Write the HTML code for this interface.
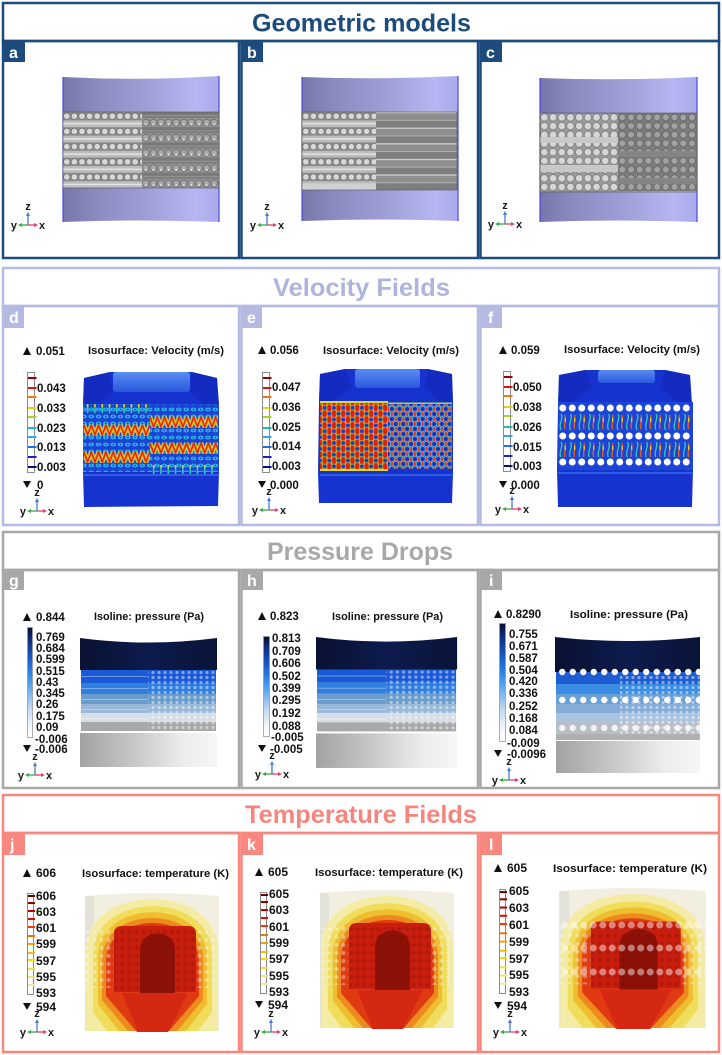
<!DOCTYPE html>
<html><head><meta charset="utf-8"><title>Simulation figure</title>
<style>
html,body{margin:0;padding:0;background:#fff;width:722px;height:1055px;overflow:hidden}
svg{display:block}
text{font-family:"Liberation Sans",Arial,sans-serif;font-weight:bold}
</style></head><body>
<svg width="722" height="1055" viewBox="0 0 722 1055" xmlns="http://www.w3.org/2000/svg">
<defs>
<linearGradient id="gPur" x1="0" y1="0" x2="1" y2="0">
 <stop offset="0" stop-color="#7676a8"/><stop offset="0.2" stop-color="#8a8abe"/>
 <stop offset="0.55" stop-color="#a0a0d8"/><stop offset="0.85" stop-color="#b6b6f2"/>
 <stop offset="1" stop-color="#aaaaec"/>
</linearGradient>
<linearGradient id="gCap" x1="0" y1="0" x2="0" y2="1">
 <stop offset="0" stop-color="#5a8cf2"/><stop offset="1" stop-color="#2a58de"/>
</linearGradient>
<linearGradient id="gNavy" x1="0" y1="0" x2="1" y2="0">
 <stop offset="0" stop-color="#091233"/><stop offset="0.5" stop-color="#0d1b4c"/><stop offset="1" stop-color="#0a1438"/>
</linearGradient>
<linearGradient id="gGray" x1="0" y1="0" x2="1" y2="0">
 <stop offset="0" stop-color="#a2a2a2"/><stop offset="0.4" stop-color="#c8c8c8"/>
 <stop offset="0.75" stop-color="#ececec"/><stop offset="1" stop-color="#f6f6f6"/>
</linearGradient>
<linearGradient id="gPbar" x1="0" y1="0" x2="0" y2="1">
 <stop offset="0" stop-color="#061030"/><stop offset="0.1" stop-color="#0c2a78"/>
 <stop offset="0.3" stop-color="#1a60d0"/><stop offset="0.45" stop-color="#3090e8"/>
 <stop offset="0.6" stop-color="#80b8f0"/><stop offset="0.75" stop-color="#c8dcf4"/>
 <stop offset="0.9" stop-color="#f4f8fc"/><stop offset="1" stop-color="#ffffff"/>
</linearGradient>
<pattern id="pA" width="7.6" height="15.2" patternUnits="userSpaceOnUse">
 <rect width="7.6" height="15.2" fill="#bcbcbc"/><rect width="7.6" height="8.4" fill="#8c8c8c"/>
 <circle cx="3.8" cy="4.2" r="3.2" fill="#d8d8d8" stroke="#666" stroke-width="0.6"/>
 <rect y="11" width="7.6" height="1.4" fill="#e6e6e6"/>
</pattern>
<pattern id="pB" width="7.6" height="15.2" patternUnits="userSpaceOnUse">
 <rect width="7.6" height="15.2" fill="#7a7a7a"/><rect width="7.6" height="9" fill="#959595"/>
 <circle cx="3.8" cy="4.5" r="3.3" fill="#a8a8a8" stroke="#5a5a5a" stroke-width="0.6"/>
 <polygon points="3.8,4.6 2.6,7.4 5,7.4" fill="#eeeeee"/>
 <rect y="12.5" width="7.6" height="0.9" fill="#9a9a9a"/>
</pattern>
<pattern id="pS" width="10" height="15.6" patternUnits="userSpaceOnUse">
 <rect width="10" height="15.6" fill="#8e8e8e"/><rect width="10" height="1.3" fill="#cfcfcf"/>
 <rect y="7.8" width="10" height="1" fill="#b0b0b0"/><rect y="9" width="10" height="6.6" fill="#7e7e7e"/>
</pattern>
<pattern id="pC" width="8.7" height="8.7" patternUnits="userSpaceOnUse">
 <rect width="8.7" height="8.7" fill="#9a9a9a"/>
 <circle cx="4.35" cy="4.35" r="3.7" fill="#d6d6d6" stroke="#6a6a6a" stroke-width="0.6"/>
</pattern>
<pattern id="pD" width="8.7" height="8.7" patternUnits="userSpaceOnUse">
 <rect width="8.7" height="8.7" fill="#7c7c7c"/>
 <circle cx="4.35" cy="4.35" r="3.4" fill="#a2a2a2" stroke="#5a5a5a" stroke-width="0.6"/>
</pattern>
<pattern id="pCy" width="7.3" height="7" patternUnits="userSpaceOnUse">
 <ellipse cx="3.65" cy="3.5" rx="2.8" ry="1.9" fill="#2cb6e6"/>
 <circle cx="3.65" cy="3.5" r="0.9" fill="#1a3ad0"/>
</pattern>
<pattern id="zig" width="7.3" height="12" patternUnits="userSpaceOnUse">
 <path d="M0,1 L3.65,11 L7.3,1" fill="none" stroke="#d8e030" stroke-width="4.5"/>
 <path d="M0,1 L3.65,11 L7.3,1" fill="none" stroke="#f28a18" stroke-width="2.8"/>
 <path d="M0,1 L3.65,11 L7.3,1" fill="none" stroke="#d81a0a" stroke-width="1.1"/>
</pattern>
<pattern id="spk" width="7.3" height="9" patternUnits="userSpaceOnUse">
 <line x1="3.65" y1="2" x2="3.65" y2="9" stroke="#30cfb0" stroke-width="1.6"/>
 <line x1="3.65" y1="0" x2="3.65" y2="3" stroke="#e8d820" stroke-width="1.6"/>
</pattern>
<pattern id="pE1" width="9.3" height="11.7" patternUnits="userSpaceOnUse">
 <rect width="9.3" height="11.7" fill="#f09a20"/>
 <g fill="#e0200c">
  <ellipse cx="4.65" cy="0" rx="2.2" ry="4"/><ellipse cx="4.65" cy="11.7" rx="2.2" ry="4"/>
  <ellipse cx="0" cy="5.85" rx="2.2" ry="4"/><ellipse cx="9.3" cy="5.85" rx="2.2" ry="4"/>
 </g>
 <g fill="#1c38d2" stroke="#8ad040" stroke-width="0.7">
  <circle cx="0" cy="0" r="2.3"/><circle cx="9.3" cy="0" r="2.3"/><circle cx="0" cy="11.7" r="2.3"/>
  <circle cx="9.3" cy="11.7" r="2.3"/><circle cx="4.65" cy="5.85" r="2.3"/>
 </g>
</pattern>
<pattern id="pE2" width="7.7" height="10" patternUnits="userSpaceOnUse">
 <rect width="7.7" height="10" fill="#2450da"/>
 <g fill="#e83a12" stroke="#e8d020" stroke-width="0.5">
  <ellipse cx="3.85" cy="0" rx="1.4" ry="3.2"/><ellipse cx="3.85" cy="10" rx="1.4" ry="3.2"/>
  <ellipse cx="0" cy="5" rx="1.4" ry="3.2"/><ellipse cx="7.7" cy="5" rx="1.4" ry="3.2"/>
 </g>
 <g fill="#1430c4" stroke="#48b0ea" stroke-width="0.8">
  <circle cx="0" cy="0" r="2.5"/><circle cx="7.7" cy="0" r="2.5"/><circle cx="0" cy="10" r="2.5"/>
  <circle cx="7.7" cy="10" r="2.5"/><circle cx="3.85" cy="5" r="2.5"/>
 </g>
</pattern>
<pattern id="pWc" width="9.5" height="10" patternUnits="userSpaceOnUse">
 <circle cx="4.75" cy="5" r="3.5" fill="#ffffff"/>
</pattern>
<pattern id="pWg" width="9.5" height="18" patternUnits="userSpaceOnUse">
 <path d="M3,1 C6,5 0,11 3,17" fill="none" stroke="#38c8b0" stroke-width="1.3"/>
 <path d="M7,2 C8.5,7 5.5,11 7,16" fill="none" stroke="#e86018" stroke-width="1.4"/>
 <path d="M7,5 L7.3,9" stroke="#f0d820" stroke-width="1.2"/>
</pattern>
<pattern id="pIc" width="10.5" height="10" patternUnits="userSpaceOnUse">
 <circle cx="5.25" cy="5" r="3.2" fill="#ffffff"/>
</pattern>
<pattern id="pDot" width="6" height="5" patternUnits="userSpaceOnUse">
 <circle cx="3" cy="2.5" r="1.6" fill="#ffffff" opacity="0.45"/>
</pattern>
<pattern id="pTd" width="7" height="8" patternUnits="userSpaceOnUse">
 <circle cx="3.5" cy="4" r="2.2" fill="#ffffff" opacity="0.35" stroke="#777" stroke-opacity="0.3" stroke-width="0.5"/>
</pattern>
<pattern id="pTr" width="7" height="8" patternUnits="userSpaceOnUse">
 <circle cx="3.5" cy="4" r="2.3" fill="#7a0a04" opacity="0.25"/>
</pattern>
<g id="vbar">
 <rect x="0.5" y="0.5" width="7" height="100" fill="#fff" stroke="#8a8a8a" stroke-width="1"/>
 <rect x="1" y="5" width="8.5" height="2" fill="#9a0000"/>
 <rect x="1" y="15" width="8.5" height="2" fill="#e01010"/>
 <rect x="1" y="24" width="8.5" height="2" fill="#f07a10"/>
 <rect x="1" y="35" width="8.5" height="2" fill="#eccc10"/>
 <rect x="1" y="44" width="8.5" height="2" fill="#a8d030"/>
 <rect x="1" y="55" width="8.5" height="2" fill="#20c0a8"/>
 <rect x="1" y="64" width="8.5" height="2" fill="#30a8e8"/>
 <rect x="1" y="74" width="8.5" height="2" fill="#2a6ae0"/>
 <rect x="1" y="84" width="8.5" height="2" fill="#1426c0"/>
 <rect x="1" y="94" width="8.5" height="2" fill="#0a0a80"/>
</g>
<g id="tbar">
 <rect x="0.5" y="0.5" width="6" height="101" fill="#fff" stroke="#8a8a8a" stroke-width="1"/>
 <rect x="1" y="2" width="7" height="2" fill="#6a0000"/>
 <rect x="1" y="9" width="7" height="2" fill="#980000"/>
 <rect x="1" y="17" width="7" height="2" fill="#c00000"/>
 <rect x="1" y="25" width="7" height="2" fill="#e00808"/>
 <rect x="1" y="33" width="7" height="2" fill="#f03a08"/>
 <rect x="1" y="42" width="7" height="2" fill="#f07010"/>
 <rect x="1" y="50" width="7" height="2" fill="#f0a010"/>
 <rect x="1" y="59" width="7" height="2" fill="#f0c010"/>
 <rect x="1" y="66" width="7" height="2" fill="#f0dc10"/>
 <rect x="1" y="75" width="7" height="2" fill="#f0e040"/>
 <rect x="1" y="83" width="7" height="2" fill="#f0e480"/>
 <rect x="1" y="91" width="7" height="2" fill="#f0e8b0"/>
</g>
<g id="axes">
 <line x1="0" y1="0" x2="0" y2="-10" stroke="#4a78d0" stroke-width="1.3"/>
 <polygon points="-2,-9 2,-9 0,-13" fill="#4a78d0"/>
 <line x1="0" y1="0" x2="-7" y2="0" stroke="#3aa843" stroke-width="1.3"/>
 <polygon points="-6,-2 -6,2 -10,0" fill="#3aa843"/>
 <line x1="0" y1="0" x2="7" y2="0" stroke="#e0406a" stroke-width="1.3"/>
 <polygon points="6,-2 6,2 10,0" fill="#e0406a"/>
</g>
<g id="presG">
 <path d="M80,638 Q148,647 217,638 L217,670 L80,670 Z" fill="url(#gNavy)"/>
 <rect x="81" y="670" width="135" height="13" fill="#1b5ad6"/>
 <rect x="81" y="683" width="135" height="11" fill="#2f7ee0"/>
 <rect x="81" y="694" width="135" height="10" fill="#6a9ccc"/>
 <rect x="81" y="704" width="135" height="9" fill="#9ab8da"/>
 <rect x="81" y="713" width="135" height="9" fill="#d6dde6"/>
 <rect x="81" y="722" width="135" height="9" fill="#a8a8a8"/>
 <rect x="148" y="670" width="68" height="61" fill="url(#pDot)"/>
 <g fill="#ffffff" opacity="0.35">
  <rect x="81" y="676" width="67" height="1"/><rect x="81" y="688" width="67" height="1"/>
  <rect x="81" y="699" width="67" height="1"/><rect x="81" y="709" width="67" height="1"/>
  <rect x="81" y="718" width="67" height="1.5"/>
 </g>
 <rect x="80" y="733" width="137" height="34" fill="url(#gGray)"/>
</g>
<g id="tempJ">
 <path d="M85,896 Q152,890 219,896 L219,1031 L85,1031 Z" fill="#f2efe0"/>
 <rect x="85" y="896" width="9" height="135" fill="#d8d8d4" opacity="0.6"/>
 <path d="M86,1031 L86,950 C86,882 218,882 218,950 L218,1031 Z" fill="#f4eba4"/>
 <path d="M93,1012 L93,955 C93,890 212,890 212,955 L212,1012 L198,1031 L107,1031 Z" fill="#f1dd5c"/>
 <path d="M98,1004 L98,958 C98,897 207,897 207,958 L207,1004 L186,1031 L119,1031 Z" fill="#efbd30"/>
 <path d="M102,1000 L102,960 C102,904 203,904 203,960 L203,1000 L177,1031 L128,1031 Z" fill="#ec8a1e"/>
 <path d="M106,996 L106,962 C106,910 199,910 199,962 L199,996 L168,1032 L137,1032 Z" fill="#e03a12"/>
 <path d="M114,992 L114,934 Q114,926 122,926 L188,926 Q196,926 196,934 L196,992 Z" fill="#c81e0e"/>
 <path d="M140,998 L140,950 C140,928 175,928 175,950 L175,998 Z" fill="#8c1208"/>
 <path d="M122,993 L188,993 L168,1032 L138,1032 Z" fill="#d42812"/>
 <rect x="86" y="928" width="28" height="60" fill="url(#pTd)"/>
 <rect x="196" y="928" width="22" height="60" fill="url(#pTd)"/>
 <rect x="114" y="928" width="82" height="62" fill="url(#pTr)"/>
</g>
</defs>

<!-- ===== Section frames ===== -->
<g fill="none" stroke="#1d4c7c" stroke-width="2.5">
 <rect x="3" y="3" width="716" height="38"/>
 <rect x="3" y="41" width="236" height="217"/>
 <rect x="241.5" y="41" width="236.5" height="217"/>
 <rect x="480.5" y="41" width="238.5" height="217"/>
</g>
<g fill="none" stroke="#b4bae2" stroke-width="2.5">
 <rect x="3" y="268" width="716" height="38"/>
 <rect x="3" y="306" width="236" height="219"/>
 <rect x="241.5" y="306" width="236.5" height="219"/>
 <rect x="480.5" y="306" width="238.5" height="219"/>
</g>
<g fill="none" stroke="#a8a8a8" stroke-width="2.5">
 <rect x="3" y="532" width="716" height="38"/>
 <rect x="3" y="570" width="236" height="218"/>
 <rect x="241.5" y="570" width="236.5" height="218"/>
 <rect x="480.5" y="570" width="238.5" height="218"/>
</g>
<g fill="none" stroke="#f8877f" stroke-width="2.5">
 <rect x="3" y="795" width="716" height="38"/>
 <rect x="3" y="833" width="236" height="219"/>
 <rect x="241.5" y="833" width="236.5" height="219"/>
 <rect x="480.5" y="833" width="238.5" height="219"/>
</g>

<!-- headers -->
<text x="361.5" y="31.5" text-anchor="middle" font-size="25" fill="#1d4c7c" textLength="219" lengthAdjust="spacingAndGlyphs">Geometric models</text>
<text x="361.5" y="296" text-anchor="middle" font-size="25" fill="#aeb4de" textLength="177" lengthAdjust="spacingAndGlyphs">Velocity Fields</text>
<text x="360" y="560" text-anchor="middle" font-size="25" fill="#a8a8a8" textLength="186" lengthAdjust="spacingAndGlyphs">Pressure Drops</text>
<text x="361" y="823" text-anchor="middle" font-size="25" fill="#f6857d" textLength="232" lengthAdjust="spacingAndGlyphs">Temperature Fields</text>

<!-- panel label boxes -->
<g fill="#1d4c7c"><rect x="3" y="41" width="22" height="21"/><rect x="241" y="41" width="22" height="21"/><rect x="480" y="41" width="22" height="21"/></g>
<g fill="#b4bae2"><rect x="3" y="306" width="21" height="22"/><rect x="241" y="306" width="21" height="22"/><rect x="480" y="306" width="22" height="22"/></g>
<g fill="#a8a8a8"><rect x="3" y="570" width="21" height="20"/><rect x="241" y="570" width="22" height="20"/><rect x="480" y="570" width="22" height="20"/></g>
<g fill="#f8877f"><rect x="3" y="833" width="22" height="22"/><rect x="241" y="833" width="22" height="22"/><rect x="480" y="833" width="22" height="22"/></g>
<g font-size="16" fill="#ffffff">
 <text x="9" y="58">a</text><text x="247" y="58">b</text><text x="486" y="58">c</text>
 <text x="9" y="323">d</text><text x="247" y="323">e</text><text x="488" y="323">f</text>
 <text x="9" y="586">g</text><text x="247" y="586">h</text><text x="489" y="586">i</text>
 <text x="10" y="850">j</text><text x="247" y="850">k</text><text x="489" y="850">l</text>
</g>

<!-- ===== Geometric models ===== -->
<path d="M63,77 Q141,81 219,76 L219,222 Q141,219 63,222 Z" fill="url(#gPur)"/>
<path d="M63,77 L63,222 M219,76 L219,222" stroke="#4a4ae6" stroke-width="1.2"/>
<g transform="translate(63,112)"><rect width="79" height="76" fill="url(#pA)"/></g>
<g transform="translate(142,102.8)"><rect y="9.2" width="77" height="76" fill="url(#pB)"/></g>
<rect x="63" y="112" width="156" height="76" fill="none" stroke="#555" stroke-width="0.6"/>

<path d="M302,77 Q380,80 458,76 L458,221 Q380,218 302,221 Z" fill="url(#gPur)"/>
<path d="M302,77 L302,221 M458,76 L458,221" stroke="#4a4ae6" stroke-width="1.2"/>
<g transform="translate(302,112)"><rect width="74" height="78" fill="url(#pA)"/></g>
<g transform="translate(376,112)"><rect width="81" height="78" fill="url(#pS)"/></g>
<rect x="302" y="184" width="74" height="6" fill="#d0d0d0"/>
<rect x="302" y="112" width="155" height="78" fill="none" stroke="#555" stroke-width="0.6"/>

<path d="M540,78 Q618,81 697,77 L697,222 Q618,219 540,222 Z" fill="url(#gPur)"/>
<path d="M540,78 L540,222 M697,77 L697,222" stroke="#4a4ae6" stroke-width="1.2"/>
<g transform="translate(540,113)"><rect width="78" height="79" fill="url(#pC)"/></g>
<rect x="540" y="137" width="78" height="6" fill="#c8c8c8"/>
<rect x="540" y="165" width="78" height="7" fill="#c8c8c8"/>
<g transform="translate(618,113)"><rect width="79" height="78" fill="url(#pD)"/></g>
<rect x="618" y="151" width="79" height="6" fill="#858585"/>
<rect x="618" y="178" width="79" height="6" fill="#858585"/>
<rect x="540" y="113" width="157" height="79" fill="none" stroke="#555" stroke-width="0.6"/>

<!-- ===== Velocity ===== -->
<path d="M84,378 L110,372 L192,372 L217,378 L219,405 L219,472 L218,506 L84,507 L83,472 L83,405 Z" fill="#1733cf"/>
<path d="M84,378 L110,372 L112,392 L100,404 L83,405 Z" fill="#1228b8" opacity="0.7"/>
<path d="M217,378 L192,372 L190,392 L202,404 L219,405 Z" fill="#1228b8" opacity="0.7"/>
<rect x="113" y="372" width="77" height="20" rx="3" fill="url(#gCap)"/>
<rect x="83" y="404" width="136" height="68" fill="#1b44d6"/>
<rect x="83" y="404" width="136" height="68" fill="url(#pCy)"/>
<g transform="translate(84,404)"><rect width="66" height="9" fill="url(#spk)"/></g>
<g transform="translate(84,424)"><rect width="66" height="12" fill="url(#zig)"/></g>
<g transform="translate(84,451)"><rect width="66" height="12" fill="url(#zig)"/></g>
<g transform="translate(150,416)"><rect width="68" height="12" fill="url(#zig)"/></g>
<g transform="translate(150,442)"><rect width="68" height="12" fill="url(#zig)"/></g>
<g transform="translate(150,465)"><rect width="68" height="10" fill="url(#spk)"/></g>
<rect x="84" y="474" width="135" height="2" fill="#2c60e4"/>

<path d="M320,374 L345,369 L428,369 L452,374 L453,402 L453,473 L452,503 L319,503 L318,473 L319,402 Z" fill="#1733cf"/>
<path d="M320,374 L345,369 L352,388 L336,400 L319,402 Z" fill="#1228b8" opacity="0.7"/>
<path d="M452,374 L428,369 L424,388 L438,400 L453,402 Z" fill="#1228b8" opacity="0.7"/>
<rect x="355" y="369" width="65" height="19" rx="3" fill="url(#gCap)"/>
<g transform="translate(320,402)"><rect width="68" height="69" fill="url(#pE1)"/></g>
<rect x="320" y="401" width="68" height="2" fill="#e0d828"/>
<rect x="320" y="469" width="68" height="2" fill="#e0d828"/>
<g transform="translate(388,404)"><rect width="64" height="65" fill="url(#pE2)"/></g>
<rect x="388" y="402.5" width="64" height="1.5" fill="#a0d840"/>
<rect x="320" y="474" width="132" height="2" fill="#2c60e4"/>

<path d="M559,375 L585,370 L665,370 L690,375 L692,405 L693,470 L692,507 L558,507 L557,470 L558,405 Z" fill="#1733cf"/>
<path d="M559,375 L585,370 L592,388 L575,401 L558,405 Z" fill="#1228b8" opacity="0.7"/>
<path d="M690,375 L665,370 L660,388 L676,401 L692,405 Z" fill="#1228b8" opacity="0.7"/>
<rect x="598" y="370" width="57" height="13" rx="3" fill="url(#gCap)"/>
<rect x="558" y="402" width="135" height="68" fill="#1c44d6"/>
<g transform="translate(558,413)"><rect width="134" height="18" fill="url(#pWg)"/></g>
<g transform="translate(558,441)"><rect width="134" height="16" fill="url(#pWg)"/></g>
<g transform="translate(558,403)"><rect width="134" height="10" fill="url(#pWc)"/></g>
<g transform="translate(558,431)"><rect width="134" height="10" fill="url(#pWc)"/></g>
<g transform="translate(558,457)"><rect width="134" height="10" fill="url(#pWc)"/></g>
<rect x="558" y="472" width="134" height="2" fill="#2c60e4"/>

<!-- ===== Pressure ===== -->
<use href="#presG"/>
<use href="#presG" transform="translate(316,637) scale(1.03,1.015) translate(-80,-638)"/>
<path d="M555,637 Q627,645 700,637 L700,672 L555,672 Z" fill="url(#gNavy)"/>
<rect x="556" y="672" width="144" height="12" fill="#1e5cd4"/>
<rect x="556" y="684" width="144" height="10" fill="#3a8ce4"/>
<rect x="556" y="694" width="144" height="10" fill="#6aa0d8"/>
<rect x="556" y="704" width="144" height="9" fill="#84acd8"/>
<rect x="556" y="713" width="144" height="9" fill="#aac4e0"/>
<rect x="556" y="722" width="144" height="12" fill="#b8bec6"/>
<rect x="556" y="734" width="144" height="6" fill="#b0b0b0"/>
<rect x="620" y="676" width="80" height="58" fill="url(#pDot)"/>
<g transform="translate(557,667)"><rect width="143" height="10" fill="url(#pIc)"/></g>
<g transform="translate(557,695)"><rect width="143" height="10" fill="url(#pIc)"/></g>
<g transform="translate(557,723)" opacity="0.8"><rect width="143" height="10" fill="url(#pIc)"/></g>
<rect x="556" y="741" width="144" height="32" fill="url(#gGray)"/>

<!-- ===== Temperature ===== -->
<use href="#tempJ"/>
<use href="#tempJ" transform="translate(235,-3)"/>
<use href="#tempJ" transform="translate(557,887) scale(1.095,1.014) translate(-83,-892)"/>
<g transform="translate(560,920)" opacity="0.45"><rect width="145" height="10" fill="url(#pWc)"/></g>
<g transform="translate(560,943)" opacity="0.45"><rect width="145" height="10" fill="url(#pWc)"/></g>
<g transform="translate(560,967)" opacity="0.45"><rect width="145" height="10" fill="url(#pWc)"/></g>

<!-- ===== Colorbars ===== -->
<use href="#vbar" x="27" y="372"/>
<use href="#vbar" x="262" y="372"/>
<use href="#vbar" x="503" y="371"/>
<rect x="27.5" y="627.5" width="5" height="110" fill="url(#gPbar)" stroke="#9a9a9a" stroke-width="0.8"/>
<rect x="263.5" y="636.5" width="6" height="100" fill="url(#gPbar)" stroke="#9a9a9a" stroke-width="0.8"/>
<rect x="499.5" y="623.5" width="6" height="118" fill="url(#gPbar)" stroke="#9a9a9a" stroke-width="0.8"/>
<use href="#tbar" x="27" y="893"/>
<use href="#tbar" x="260" y="892"/>
<use href="#tbar" transform="translate(499,889) scale(1,1.03)"/>

<!-- ===== Axes triads ===== -->
<use href="#axes" x="28" y="225"/><use href="#axes" x="267" y="225"/><use href="#axes" x="505" y="224"/>
<use href="#axes" x="37" y="511"/><use href="#axes" x="269" y="510"/><use href="#axes" x="512" y="509"/>
<use href="#axes" x="35" y="775"/><use href="#axes" x="272" y="774"/><use href="#axes" x="509" y="780"/>
<use href="#axes" x="37" y="1032"/><use href="#axes" x="271" y="1032"/><use href="#axes" x="510" y="1032"/>
<g font-size="11" fill="#1a1a1a">
 <text x="28" y="210" text-anchor="middle">z</text><text x="17" y="229" text-anchor="end">y</text><text x="39" y="229">x</text>
 <text x="267" y="210" text-anchor="middle">z</text><text x="256" y="229" text-anchor="end">y</text><text x="278" y="229">x</text>
 <text x="505" y="209" text-anchor="middle">z</text><text x="494" y="228" text-anchor="end">y</text><text x="516" y="228">x</text>
 <text x="37" y="496" text-anchor="middle">z</text><text x="26" y="515" text-anchor="end">y</text><text x="48" y="515">x</text>
 <text x="269" y="495" text-anchor="middle">z</text><text x="258" y="514" text-anchor="end">y</text><text x="280" y="514">x</text>
 <text x="512" y="494" text-anchor="middle">z</text><text x="501" y="513" text-anchor="end">y</text><text x="523" y="513">x</text>
 <text x="35" y="760" text-anchor="middle">z</text><text x="24" y="779" text-anchor="end">y</text><text x="46" y="779">x</text>
 <text x="272" y="759" text-anchor="middle">z</text><text x="261" y="778" text-anchor="end">y</text><text x="283" y="778">x</text>
 <text x="509" y="765" text-anchor="middle">z</text><text x="498" y="784" text-anchor="end">y</text><text x="520" y="784">x</text>
 <text x="37" y="1017" text-anchor="middle">z</text><text x="26" y="1036" text-anchor="end">y</text><text x="48" y="1036">x</text>
 <text x="271" y="1017" text-anchor="middle">z</text><text x="260" y="1036" text-anchor="end">y</text><text x="282" y="1036">x</text>
 <text x="510" y="1017" text-anchor="middle">z</text><text x="499" y="1036" text-anchor="end">y</text><text x="521" y="1036">x</text>
</g>

<!-- ===== Triangles ===== -->
<g fill="#111">
 <polygon points="23,355 31,355 27,347"/><polygon points="23,481 31,481 27,488"/>
 <polygon points="258,354 266,354 262,346"/><polygon points="258,481 266,481 262,488"/>
 <polygon points="499,354 507,354 503,346"/><polygon points="499,481 507,481 503,488"/>
 <polygon points="23,621 31,621 27,613"/><polygon points="23,745 31,745 27,752"/>
 <polygon points="258,620 266,620 262,612"/><polygon points="258,745 266,745 262,752"/>
 <polygon points="494,618 502,618 498,610"/><polygon points="494,750 502,750 498,757"/>
 <polygon points="23,877 31,877 27,869"/><polygon points="23,1003 31,1003 27,1010"/>
 <polygon points="255,876 263,876 259,868"/><polygon points="255,1001 263,1001 259,1008"/>
 <polygon points="494,872 502,872 498,864"/><polygon points="494,1002 502,1002 498,1009"/>
</g>

<!-- ===== Titles ===== -->
<g font-size="11" fill="#111">
 <text x="88" y="354" textLength="136" lengthAdjust="spacingAndGlyphs">Isosurface: Velocity (m/s)</text>
 <text x="323" y="354" textLength="136" lengthAdjust="spacingAndGlyphs">Isosurface: Velocity (m/s)</text>
 <text x="564" y="353" textLength="136" lengthAdjust="spacingAndGlyphs">Isosurface: Velocity (m/s)</text>
 <text x="94" y="620" textLength="110" lengthAdjust="spacingAndGlyphs">Isoline: pressure (Pa)</text>
 <text x="332" y="620" textLength="111" lengthAdjust="spacingAndGlyphs">Isoline: pressure (Pa)</text>
 <text x="570" y="618" textLength="118" lengthAdjust="spacingAndGlyphs">Isoline: pressure (Pa)</text>
 <text x="82" y="877" textLength="147" lengthAdjust="spacingAndGlyphs">Isosurface: temperature (K)</text>
 <text x="315" y="876" textLength="148" lengthAdjust="spacingAndGlyphs">Isosurface: temperature (K)</text>
 <text x="553" y="872" textLength="154" lengthAdjust="spacingAndGlyphs">Isosurface: temperature (K)</text>
</g>

<!-- ===== Numeric labels ===== -->
<g font-size="11.5" fill="#111">
 <text x="36" y="355">0.051</text>
 <text x="37" y="392">0.043</text><text x="37" y="412">0.033</text><text x="37" y="432">0.023</text><text x="37" y="451">0.013</text><text x="37" y="471">0.003</text>
 <text x="37" y="489">0</text>
 <text x="270" y="354">0.056</text>
 <text x="272" y="391">0.047</text><text x="272" y="411">0.036</text><text x="272" y="431">0.025</text><text x="272" y="450">0.014</text><text x="272" y="470">0.003</text>
 <text x="270" y="489">0.000</text>
 <text x="511" y="354">0.059</text>
 <text x="513" y="391">0.050</text><text x="513" y="411">0.038</text><text x="513" y="431">0.026</text><text x="513" y="451">0.015</text><text x="513" y="470">0.003</text>
 <text x="511" y="489">0.000</text>

 <text x="36" y="621">0.844</text>
 <text x="36" y="641">0.769</text><text x="36" y="652">0.684</text><text x="36" y="663">0.599</text><text x="36" y="675">0.515</text><text x="36" y="686">0.43</text>
 <text x="36" y="697">0.345</text><text x="36" y="708">0.26</text><text x="36" y="720">0.175</text><text x="36" y="731">0.09</text><text x="35" y="743">-0.006</text>
 <text x="35" y="753">-0.006</text>
 <text x="270" y="620">0.823</text>
 <text x="272" y="642">0.813</text><text x="272" y="655">0.709</text><text x="272" y="667">0.606</text><text x="272" y="680">0.502</text><text x="272" y="692">0.399</text>
 <text x="272" y="704">0.295</text><text x="272" y="717">0.192</text><text x="272" y="730">0.088</text><text x="271" y="741">-0.005</text>
 <text x="270" y="753">-0.005</text>
 <text x="506" y="618">0.8290</text>
 <text x="509" y="638">0.755</text><text x="509" y="650">0.671</text><text x="509" y="662">0.587</text><text x="509" y="674">0.504</text><text x="509" y="685">0.420</text>
 <text x="509" y="697">0.336</text><text x="509" y="710">0.252</text><text x="509" y="722">0.168</text><text x="509" y="734">0.084</text><text x="507" y="747">-0.009</text>
 <text x="507" y="758">-0.0096</text>
</g>
<g font-size="12" fill="#111">
 <text x="36" y="877">606</text>
 <text x="36" y="900">606</text><text x="36" y="916">603</text><text x="36" y="932">601</text><text x="36" y="948">599</text><text x="36" y="965">597</text><text x="36" y="981">595</text><text x="36" y="997">593</text>
 <text x="36" y="1011">594</text>
 <text x="268" y="876">605</text>
 <text x="269" y="898">605</text><text x="269" y="914">603</text><text x="269" y="931">601</text><text x="269" y="947">599</text><text x="269" y="963">597</text><text x="269" y="980">595</text><text x="269" y="996">593</text>
 <text x="268" y="1009">594</text>
 <text x="507" y="872">605</text>
 <text x="509" y="895">605</text><text x="509" y="912">603</text><text x="509" y="929">601</text><text x="509" y="946">599</text><text x="509" y="963">597</text><text x="509" y="979">595</text><text x="509" y="996">593</text>
 <text x="507" y="1010">594</text>
</g>
</svg>
</body></html>
